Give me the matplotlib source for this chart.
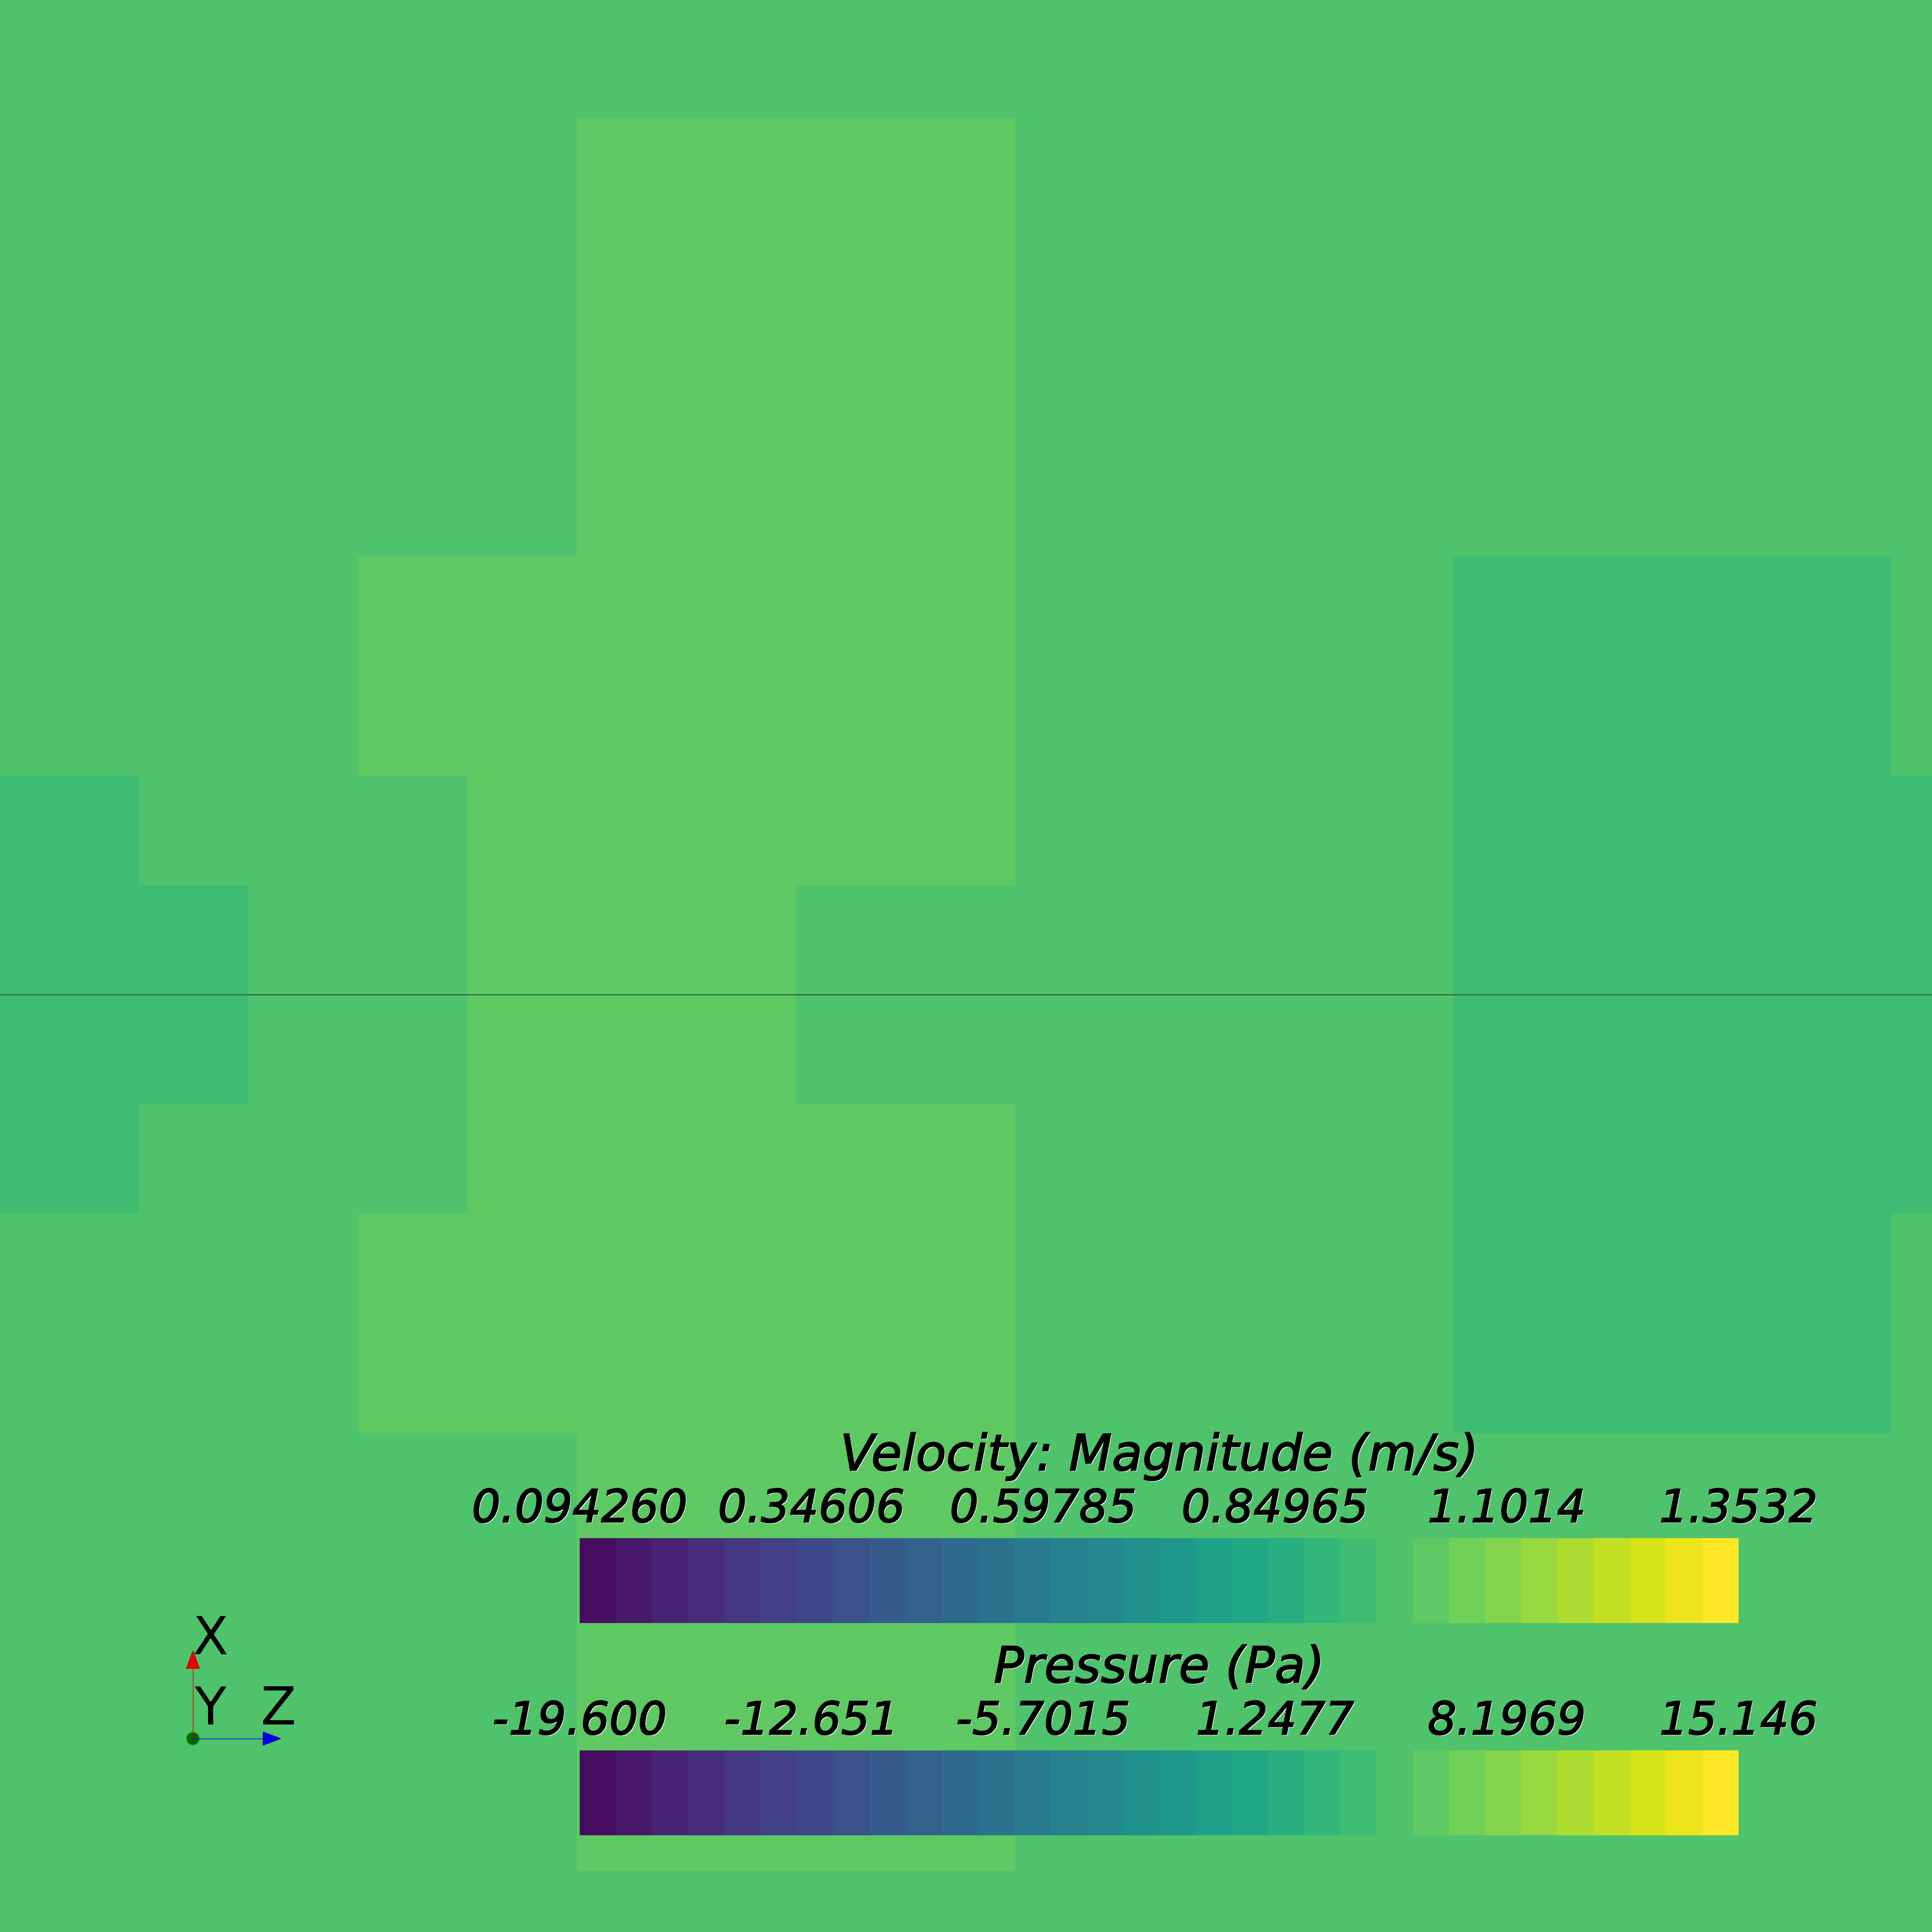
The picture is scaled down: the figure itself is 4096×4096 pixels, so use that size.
import numpy as np
import matplotlib
matplotlib.use('Agg')
import matplotlib.pyplot as plt
import matplotlib.patheffects as pe
from matplotlib.colors import ListedColormap, Normalize
from matplotlib.cm import ScalarMappable
from matplotlib.patches import Polygon, Circle

# cell values of velocity magnitude (m/s), one letter per cell
cell_levels = {'L': 0.94, 'M': 0.98, 'H': 1.02}
cell_rows = [
    "MMMMMMMMMMMMMMMMMMM",
    "MMMMMMMMMMMMMMMMMMM",
    "MMMMMMHHHHMMMMMMMMM",
    "MMMMMMHHHHMMMMMMMMM",
    "MMMMMMHHHHMMMMMMMMM",
    "MMMMMMHHHHMMMMMMMMM",
    "MMMMHHHHHHMMMMLLLLM",
    "MMMMHHHHHHMMMMLLLLM",
    "LLMMMHHHHHMMMMLLLLL",
    "LLLMMHHHMMMMMMLLLLL",
    "LLLMMHHHMMMMMMLLLLL",
    "LLMMMHHHHHMMMMLLLLL",
    "MMMMHHHHHHMMMMLLLLM",
    "MMMMHHHHHHMMMMLLLLM",
    "MMMMMMHHHHMMMMMMMMM",
    "MMMMMMHHHHMMMMMMMMM",
    "MMMMMMHHHHMMMMMMMMM",
    "MMMMMMHHHHMMMMMMMMM",
    "MMMMMMMMMMMMMMMMMMM",
]
symmetry_row = 10  # plane between the two halves

vel_title = "Velocity: Magnitude (m/s)"
vel_min, vel_max = 0.094260, 1.3532
vel_ticks = [0.094260, 0.34606, 0.59785, 0.84965, 1.1014, 1.3532]
vel_labels = ["0.094260", "0.34606", "0.59785", "0.84965", "1.1014", "1.3532"]

p_title = "Pressure (Pa)"
p_min, p_max = -19.600, 15.146
p_ticks = [-19.600, -12.651, -5.7015, 1.2477, 8.1969, 15.146]
p_labels = ["-19.600", "-12.651", "-5.7015", "1.2477", "8.1969", "15.146"]

n_bands = 32
cmap = ListedColormap(plt.cm.viridis((np.arange(n_bands) + 1) / n_bands))

vel = np.array([[cell_levels[ch] for ch in row] for row in cell_rows])

W = 4096
fig = plt.figure(figsize=(W / 100, W / 100), dpi=100)

# scene
ax = fig.add_axes([0, 0, 1, 1])
ny, nx = vel.shape
ax.pcolormesh(np.arange(nx + 1), np.arange(ny + 1), vel, cmap=cmap,
              norm=Normalize(vel_min, vel_max), shading='flat')
ax.axhline(symmetry_row, color='#25693b', lw=1.7)
ax.set_xlim(0.7327, 18.370)
ax.set_ylim(18.558, 0.9177)
ax.axis('off')

shadow = [pe.SimplePatchShadow(offset=(1.6, -1.6), shadow_rgbFace='white', alpha=1.0),
          pe.Stroke(linewidth=1.8, foreground='black'),
          pe.Normal()]


def legend_bar(top_px, vmin, vmax, ticks, labels, title):
    left, right, h = 1229, 3686, 180
    cax = fig.add_axes([left / W, (W - top_px - h) / W, (right - left) / W, h / W])
    cb = fig.colorbar(ScalarMappable(Normalize(vmin, vmax), cmap), cax=cax,
                      orientation='horizontal')
    cb.outline.set_visible(False)
    cax.set_xticks([])
    tr = cax.get_xaxis_transform()
    for t, lab in zip(ticks, labels):
        cax.text(t, 1.19, lab, transform=tr, ha='center', va='baseline',
                 fontsize=69, fontstyle='italic', color='black',
                 path_effects=shadow)
    cax.text(0.5, 1.8, title, transform=cax.transAxes, ha='center',
             va='baseline', fontsize=76, fontstyle='italic', color='black',
             path_effects=shadow)


legend_bar(3261, vel_min, vel_max, vel_ticks, vel_labels, vel_title)
legend_bar(3711, p_min, p_max, p_ticks, p_labels, p_title)

# orientation triad
L = 186.0
ox, oy = 409, 3686
tx0, tx1, ty0, ty1 = 300, 700, 3350, 3750
tax = fig.add_axes([tx0 / W, (W - ty1) / W, (tx1 - tx0) / W, (ty1 - ty0) / W])
tax.set_xlim((tx0 - ox) / L, (tx1 - ox) / L)
tax.set_ylim((oy - ty1) / L, (oy - ty0) / L)
tax.axis('off')
tax.plot([0, 0], [0, 0.8], color='#e00000', lw=1.0)
tax.plot([0, 0.8], [0, 0], color='#0000ee', lw=1.0)
tax.add_patch(Polygon([[-0.075, 0.8], [0.075, 0.8], [0, 1.0]], closed=True,
                      facecolor='#e80000', edgecolor='#b00000', lw=1.0))
tax.add_patch(Polygon([[0.8, -0.075], [0.8, 0.075], [1.0, 0]], closed=True,
                      facecolor='#0000f0', edgecolor='#0000a0', lw=1.0))
tax.add_patch(Circle((0, 0), 0.075, facecolor='#006400', edgecolor='#00e000', lw=1.2))
for lab, x, y in [("X", 0.20, 0.96), ("Y", 0.20, 0.16), ("Z", 0.97, 0.16)]:
    tax.text(x, y, lab, ha='center', va='baseline', fontsize=79, color='black')

fig.savefig('out.png', dpi=100)
